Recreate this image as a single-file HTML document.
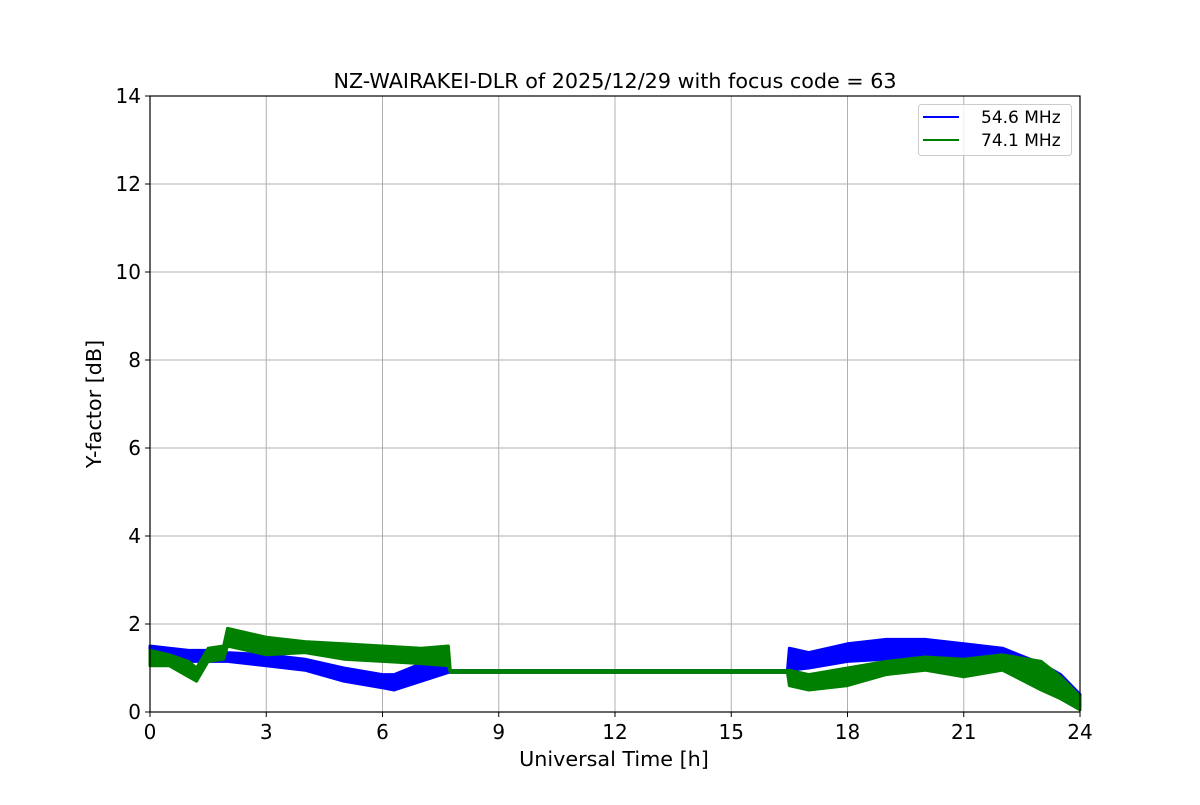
<!DOCTYPE html>
<html><head><meta charset="utf-8"><style>
body{margin:0;background:#fff;}
svg text{font-family:"DejaVu Sans","Liberation Sans",sans-serif;fill:#000;}
</style></head><body>
<svg id="chart" width="1200" height="800" xmlns="http://www.w3.org/2000/svg">
<rect width="1200" height="800" fill="#fff"/>
<text x="615" y="88" font-size="20.7" text-anchor="middle">NZ-WAIRAKEI-DLR of 2025/12/29 with focus code = 63</text>
<g id="grid"></g>
<g id="series"></g>
<rect x="150" y="96" width="930" height="616" fill="none" stroke="#000" stroke-width="1.2"/>
<g id="ticks"></g>
<text x="614" y="766" font-size="20.7" text-anchor="middle">Universal Time [h]</text>
<text transform="translate(101,404) rotate(-90)" font-size="20.7" text-anchor="middle">Y-factor [dB]</text>
<g>
<rect x="918.5" y="104.5" width="153" height="51" rx="3" fill="#fff" fill-opacity="0.8" stroke="#ccc"/>
<line x1="923" y1="117" x2="959" y2="117" stroke="#0000ff" stroke-width="2"/>
<text x="981" y="123" font-size="17">54.6 MHz</text>
<line x1="923" y1="140" x2="959" y2="140" stroke="#008000" stroke-width="2"/>
<text x="981" y="146" font-size="17">74.1 MHz</text>
</g>
</svg>
<script>
const xTicks=[0,3,6,9,12,15,18,21,24];
const yTicks=[0,2,4,6,8,10,12,14];
const blueT=[0,0.5,1,1.5,2,3,4,5,6,6.3,7,7.7,7.75,16.45,16.5,17,18,19,20,21,22,23,23.5,24];
const blueLo=[1.15,1.2,1.15,1.15,1.15,1.05,0.95,0.7,0.55,0.5,0.7,0.9,0.9,0.9,0.95,1.0,1.15,1.2,1.2,1.1,1.05,0.75,0.5,0.1];
const blueHi=[1.5,1.45,1.4,1.4,1.35,1.3,1.2,1.0,0.85,0.85,1.1,1.2,0.94,0.94,1.45,1.35,1.55,1.65,1.65,1.55,1.45,1.1,0.85,0.4];
const greenT=[0,0.5,1,1.2,1.5,1.9,2,3,4,5,6,7,7.7,7.75,16.45,16.5,17,18,19,20,21,22,23,23.5,24];
const greenLo=[1.05,1.05,0.8,0.7,1.15,1.2,1.5,1.3,1.35,1.2,1.15,1.1,1.05,0.9,0.9,0.6,0.5,0.6,0.85,0.95,0.8,0.95,0.5,0.3,0.05];
const greenHi=[1.4,1.3,1.15,1.0,1.45,1.5,1.9,1.7,1.6,1.55,1.5,1.45,1.5,0.94,0.94,0.95,0.85,1.0,1.15,1.25,1.2,1.3,1.15,0.8,0.35];
const X0=150,X1=1080,Y0=712,Y1=96;
const sx=v=>X0+(v-0)/24*(X1-X0);
const sy=v=>Y0-(v-0)/14*(Y0-Y1);
const NS='http://www.w3.org/2000/svg';
const grid=document.getElementById('grid'),ticks=document.getElementById('ticks'),ser=document.getElementById('series');
function mk(tag,attrs,parent){const e=document.createElementNS(NS,tag);for(const k in attrs)e.setAttribute(k,attrs[k]);parent.appendChild(e);return e;}
xTicks.forEach(t=>{
 const g=mk('line',{x1:sx(t),x2:sx(t),y1:Y1,y2:Y0,stroke:'#b0b0b0','stroke-width':1},grid);
 
 
 mk('line',{x1:sx(t),x2:sx(t),y1:Y0,y2:Y0+5,stroke:'#000'},ticks);
 const l=mk('text',{x:sx(t),y:Y0+27,'font-size':20,'text-anchor':'middle'},ticks);l.textContent=t;
 
 
});
yTicks.forEach(t=>{
 const g=mk('line',{x1:X0,x2:X1,y1:sy(t),y2:sy(t),stroke:'#b0b0b0','stroke-width':1},grid);
 
 
 mk('line',{x1:X0-5,x2:X0,y1:sy(t),y2:sy(t),stroke:'#000'},ticks);
 const l=mk('text',{x:X0-9,y:sy(t)+7,'font-size':20,'text-anchor':'end'},ticks);l.textContent=t;
 
 
});
function band(T,lo,hi,color,name){
 let pts=T.map((t,i)=>sx(t)+','+sy(hi[i]));
 for(let i=T.length-1;i>=0;i--)pts.push(sx(T[i])+','+sy(lo[i]));
 const p=mk('polygon',{points:pts.join(' '),fill:color,stroke:color,'stroke-width':3,'stroke-linejoin':'round'},ser);
 
 
}
band(blueT,blueLo,blueHi,'#0000ff','series-54-6-mhz');
band(greenT,greenLo,greenHi,'#008000','series-74-1-mhz');
</script>
</body></html>
